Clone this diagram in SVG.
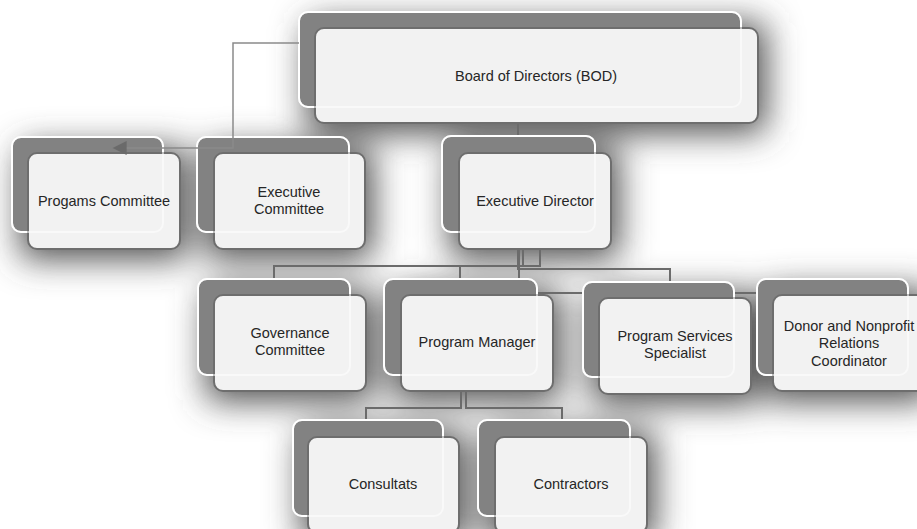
<svg xmlns="http://www.w3.org/2000/svg" width="917" height="529" viewBox="0 0 917 529">
  <defs>
    <style>
      .back { fill: #828282; stroke: #ffffff; stroke-width: 2; }
      .front { fill: #f2f2f2; stroke: #6e6e6e; stroke-width: 2; }
      .rim { fill: none; stroke: #ffffff; stroke-width: 2; opacity: 0.55; }
      .label { font-family: "Liberation Sans", Arial, sans-serif; font-size: 14.5px; fill: #262626; text-anchor: middle; }
      .link { fill: none; stroke: #6b6b6b; stroke-width: 2; }
      .link-over { fill: none; stroke: #8a8a8a; stroke-width: 1.5; }
      .haze rect { fill: #4d4d4d; }
    </style>
    <filter id="blur" x="-20%" y="-25%" width="140%" height="150%">
      <feGaussianBlur stdDeviation="17"/>
    </filter>
    <marker id="arrow" viewBox="0 0 10 10" refX="9" refY="5" markerUnits="userSpaceOnUse" markerWidth="17" markerHeight="14" orient="auto">
      <path d="M0,0 L10,5 L0,10 z" fill="#6a6a6a"/>
    </marker>
  </defs>

  <rect x="0" y="0" width="917" height="529" fill="#ffffff"/>

  <!-- soft drop shadow under every box -->
  <g class="haze" filter="url(#blur)" transform="translate(8,10)">
    <rect x="299" y="12" width="459" height="111" rx="10"/>
    <rect x="12" y="137" width="168" height="112" rx="10"/>
    <rect x="197" y="137" width="168" height="112" rx="10"/>
    <rect x="442" y="136" width="169" height="113" rx="10"/>
    <rect x="198" y="279" width="168" height="112" rx="10"/>
    <rect x="384" y="279" width="169" height="112" rx="10"/>
    <rect x="583" y="282" width="168" height="112" rx="10"/>
    <rect x="757" y="279" width="168" height="112" rx="10"/>
    <rect x="293" y="420" width="166" height="113" rx="10"/>
    <rect x="478" y="420" width="169" height="113" rx="10"/>
  </g>

  <!-- reporting lines (drawn under the boxes) -->
  <g id="connectors">
    <path class="link" d="M518,123 V137"/>
    <path class="link" d="M523,249 V266 H274 V280"/>
    <path class="link" d="M540,249 V266 H460 V280"/>
    <path class="link" d="M518,249 V269 H670 V283"/>
    <path class="link" d="M519,249 V293 H758"/>
    <path class="link" d="M461,391 V408 H366 V421"/>
    <path class="link" d="M466,391 V408 H562 V421"/>
  </g>

  <g id="node-bod">
    <rect class="back" x="299" y="12" width="442" height="95" rx="9"/>
    <rect class="front" x="315" y="28" width="443" height="95" rx="9"/>
    <rect class="rim" x="299" y="12" width="442" height="95" rx="9"/>
    <text class="label" x="536" y="81">Board of Directors (BOD)</text>
  </g>

  <g id="node-programs-committee">
    <rect class="back" x="12" y="137" width="151" height="95" rx="9"/>
    <rect class="front" x="28" y="153" width="152" height="96" rx="9"/>
    <rect class="rim" x="12" y="137" width="151" height="95" rx="9"/>
    <text class="label" x="104" y="206">Progams Committee</text>
  </g>

  <g id="node-executive-committee">
    <rect class="back" x="197" y="137" width="152" height="95" rx="9"/>
    <rect class="front" x="214" y="153" width="151" height="96" rx="9"/>
    <rect class="rim" x="197" y="137" width="152" height="95" rx="9"/>
    <text class="label" x="289" y="197">Executive</text>
    <text class="label" x="289" y="214">Committee</text>
  </g>

  <g id="node-executive-director">
    <rect class="back" x="442" y="136" width="153" height="96" rx="9"/>
    <rect class="front" x="459" y="153" width="152" height="96" rx="9"/>
    <rect class="rim" x="442" y="136" width="153" height="96" rx="9"/>
    <text class="label" x="535" y="206">Executive Director</text>
  </g>

  <g id="node-governance-committee">
    <rect class="back" x="198" y="279" width="152" height="96" rx="9"/>
    <rect class="front" x="214" y="295" width="152" height="96" rx="9"/>
    <rect class="rim" x="198" y="279" width="152" height="96" rx="9"/>
    <text class="label" x="290" y="338">Governance</text>
    <text class="label" x="290" y="355">Committee</text>
  </g>

  <g id="node-program-manager">
    <rect class="back" x="384" y="279" width="153" height="96" rx="9"/>
    <rect class="front" x="401" y="295" width="152" height="96" rx="9"/>
    <rect class="rim" x="384" y="279" width="153" height="96" rx="9"/>
    <text class="label" x="477" y="347">Program Manager</text>
  </g>

  <g id="node-program-services-specialist">
    <rect class="back" x="583" y="282" width="151" height="95" rx="9"/>
    <rect class="front" x="599" y="298" width="152" height="96" rx="9"/>
    <rect class="rim" x="583" y="282" width="151" height="95" rx="9"/>
    <text class="label" x="675" y="341">Program Services</text>
    <text class="label" x="675" y="358">Specialist</text>
  </g>

  <g id="node-donor-relations">
    <rect class="back" x="757" y="279" width="151" height="96" rx="9"/>
    <rect class="front" x="773" y="295" width="152" height="96" rx="9"/>
    <rect class="rim" x="757" y="279" width="151" height="96" rx="9"/>
    <text class="label" x="849" y="331">Donor and Nonprofit</text>
    <text class="label" x="849" y="348">Relations</text>
    <text class="label" x="849" y="366">Coordinator</text>
  </g>

  <g id="node-consultants">
    <rect class="back" x="293" y="420" width="150" height="96" rx="9"/>
    <rect class="front" x="308" y="437" width="151" height="96" rx="9"/>
    <rect class="rim" x="293" y="420" width="150" height="96" rx="9"/>
    <text class="label" x="383" y="489">Consultats</text>
  </g>

  <g id="node-contractors">
    <rect class="back" x="478" y="420" width="152" height="96" rx="9"/>
    <rect class="front" x="495" y="437" width="152" height="96" rx="9"/>
    <rect class="rim" x="478" y="420" width="152" height="96" rx="9"/>
    <text class="label" x="571" y="489">Contractors</text>
  </g>

  <!-- committee line from the board, drawn over the boxes -->
  <g id="connectors-over">
    <path class="link-over" d="M299,43 H233 V148 H114" marker-end="url(#arrow)"/>
  </g>
</svg>
